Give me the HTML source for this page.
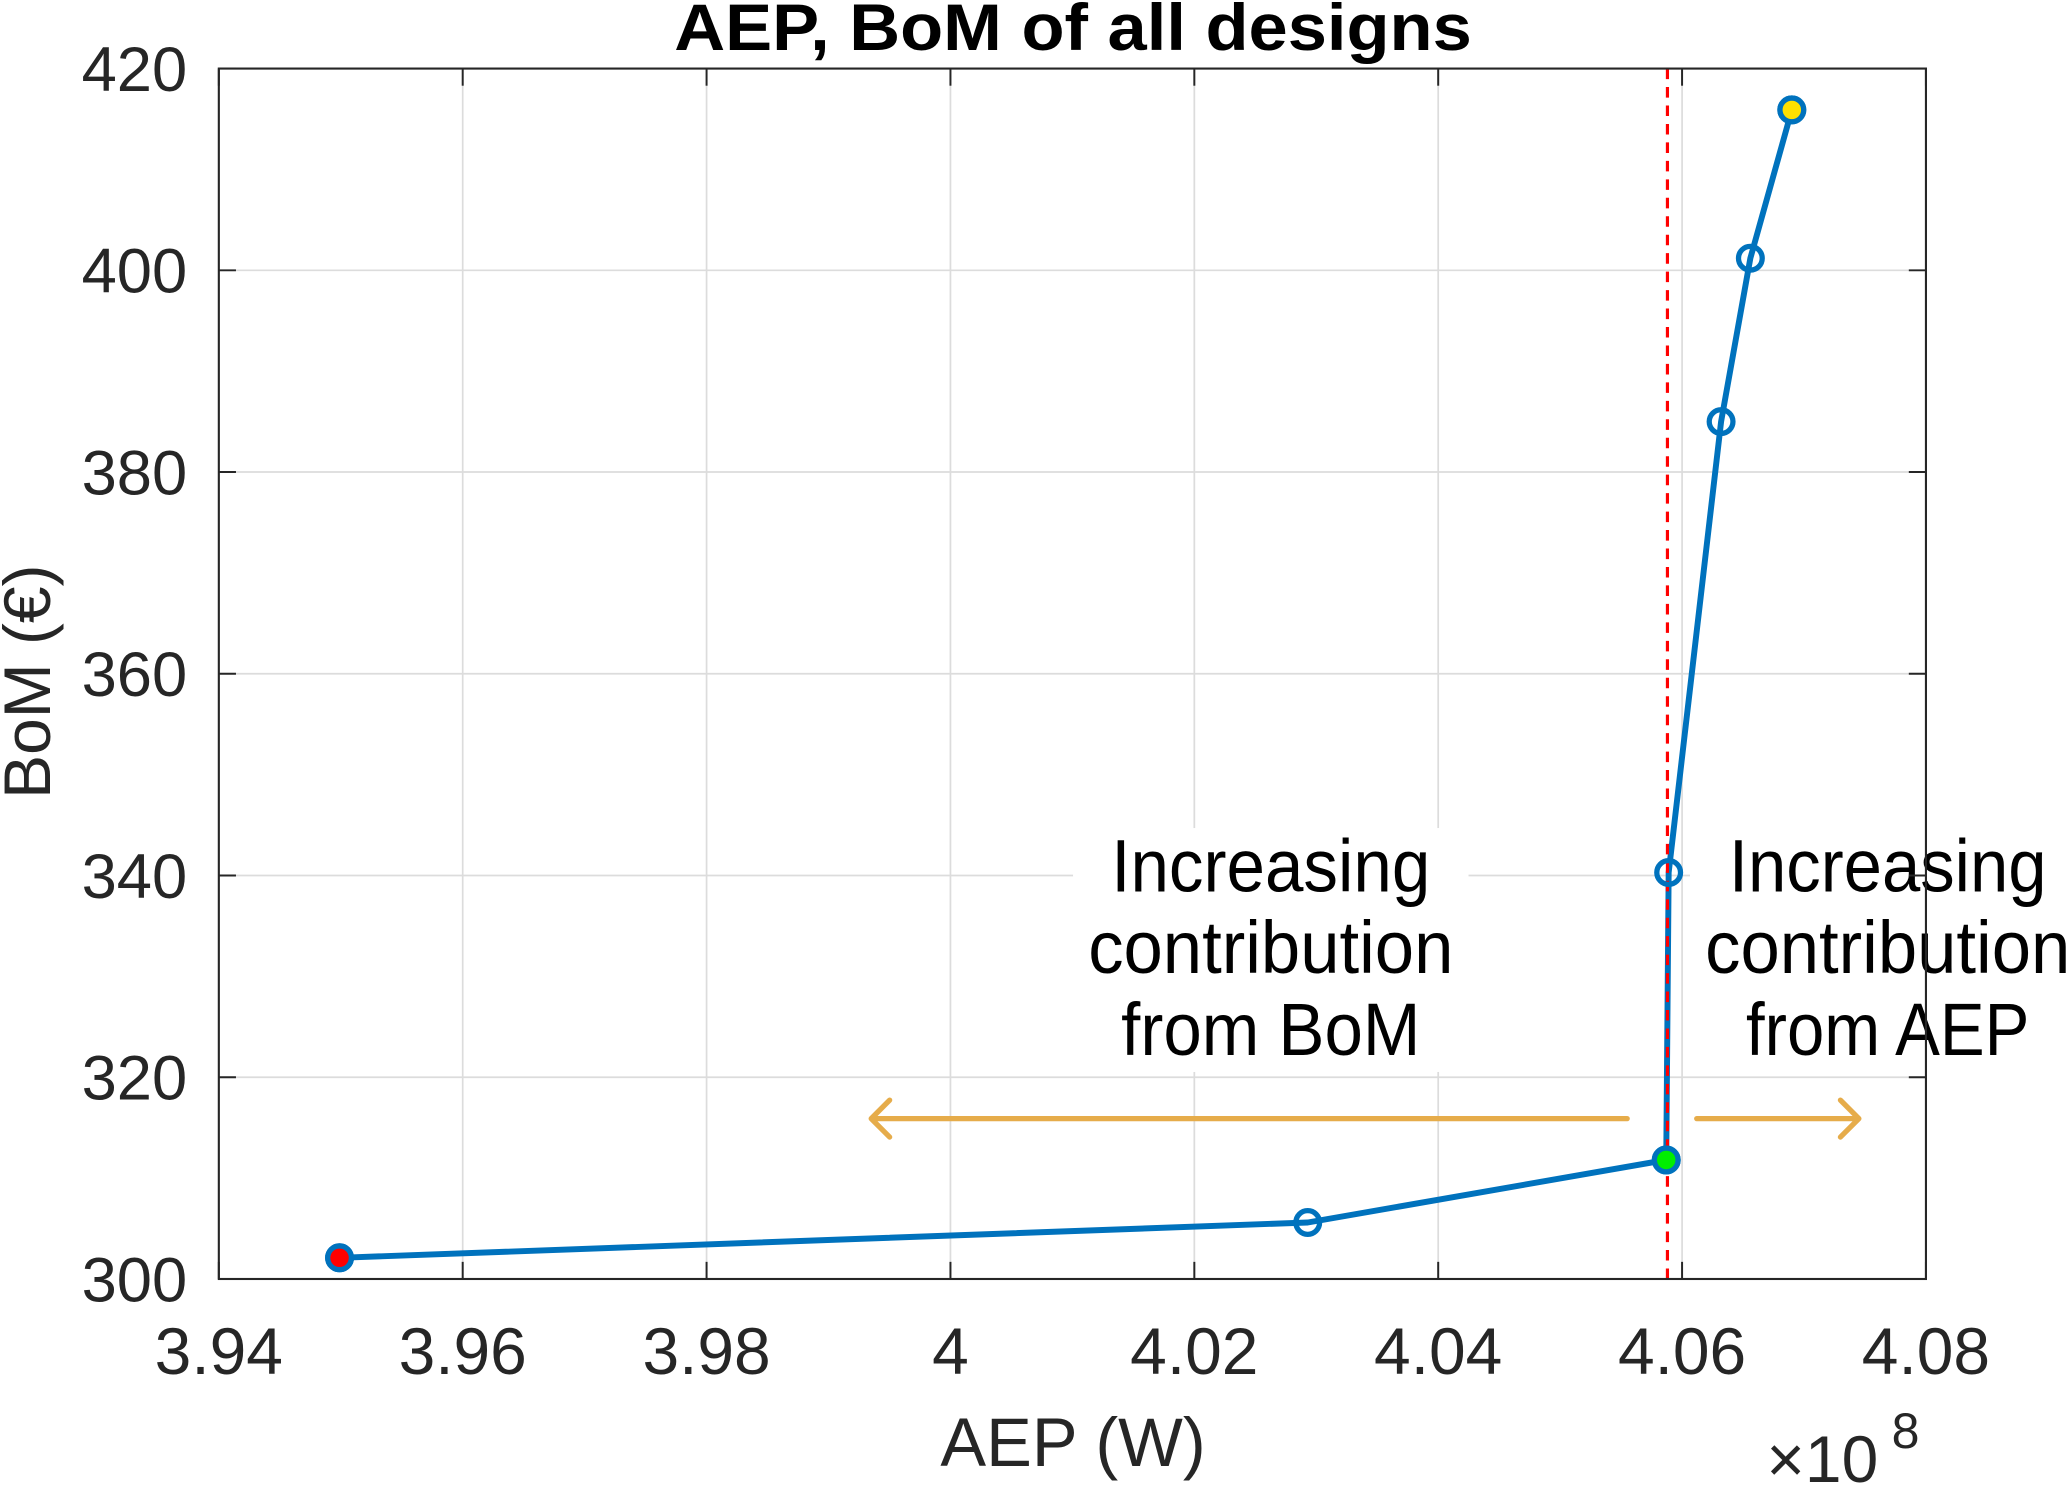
<!DOCTYPE html>
<html><head><meta charset="utf-8"><style>html,body{margin:0;padding:0;background:#fff}svg{display:block}</style></head>
<body>
<svg id="chart" width="2067" height="1486" viewBox="0 0 1568 1127" preserveAspectRatio="none" xmlns="http://www.w3.org/2000/svg" font-family="'Liberation Sans', sans-serif">
<rect x="0" y="0" width="1568" height="1127" fill="#fff"/>
<g id="grid"></g>
<g id="annots"></g>
<g id="series"></g>
<g id="axes"></g>
</svg>
<script>
const xTicks = [3.94, 3.96, 3.98, 4.00, 4.02, 4.04, 4.06, 4.08];
const xTickLabels = ['3.94','3.96','3.98','4','4.02','4.04','4.06','4.08'];
const yTicks = [300, 320, 340, 360, 380, 400, 420];
const yTickLabels = ['300','320','340','360','380','400','420'];
const aep = [3.9499, 4.0293, 4.0587, 4.0589, 4.0632, 4.0656, 4.0690];
const bom = [302.1, 305.6, 311.8, 340.3, 385.0, 401.2, 415.9];
const highlightIdx = [0, 2, 6];
const highlightColors = ['#ff0000', '#00ee00', '#ffe000'];
const thresholdAEP = [4.0588];
const arrowY = [315.9];
const arrowLeftX = [4.0555, 3.9935];
const arrowRightX = [4.0612, 4.0745];

const L=166,R=1461,T=52,B=970;
const xs=v=>L+(v-3.94)/(4.08-3.94)*(R-L);
const ys=v=>B-(v-300)/(420-300)*(B-T);
const NS='http://www.w3.org/2000/svg';
function mk(tag,attrs,parent,text){const e=document.createElementNS(NS,tag);for(const k in attrs)e.setAttribute(k,attrs[k]);if(text!==undefined)e.textContent=text;parent.appendChild(e);return e;}
const grid=document.getElementById('grid'),axes=document.getElementById('axes'),series=document.getElementById('series'),ann=document.getElementById('annots');

xTicks.forEach((t,i)=>{const x=xs(t);
 let g=mk('line',{x1:x,x2:x,y1:T,y2:B,stroke:'#dcdcdc','stroke-width':1.3},grid);
 
 let a=mk('line',{x1:x,x2:x,y1:B,y2:B-13,stroke:'#262626','stroke-width':1.5},axes);
 
 let b=mk('line',{x1:x,x2:x,y1:T,y2:T+13,stroke:'#262626','stroke-width':1.5},axes);
 
 let l=mk('text',{x:x,y:1042,'font-size':50,fill:'#262626','text-anchor':'middle'},axes,xTickLabels[i]);
 
});
yTicks.forEach((t,i)=>{const y=ys(t);
 let g=mk('line',{x1:L,x2:R,y1:y,y2:y,stroke:'#dcdcdc','stroke-width':1.3},grid);
 
 let a=mk('line',{x1:L,x2:L+13,y1:y,y2:y,stroke:'#262626','stroke-width':1.5},axes);
 
 let b=mk('line',{x1:R,x2:R-13,y1:y,y2:y,stroke:'#262626','stroke-width':1.5},axes);
 
 let l=mk('text',{x:142,y:y+17,'font-size':48,fill:'#262626','text-anchor':'end'},axes,yTickLabels[i]);
 
});
let box=mk('rect',{x:L,y:T,width:R-L,height:B-T,fill:'none',stroke:'#262626','stroke-width':1.6},axes);

let tt=mk('text',{x:814,y:38,'font-size':50,'font-weight':'bold','text-anchor':'middle',fill:'#000',textLength:605,lengthAdjust:'spacingAndGlyphs'},axes,'AEP, BoM of all designs');

let xl=mk('text',{x:814,y:1112,'font-size':52,'text-anchor':'middle',fill:'#262626'},axes,'AEP (W)');

let yl=mk('text',{x:0,y:0,'font-size':50,'text-anchor':'middle',fill:'#262626',transform:'translate(38,517) rotate(-90)'},axes,'BoM (€)');

let ex=mk('text',{x:1340,y:1124,'font-size':50,fill:'#262626'},axes,'×10');

let e8=mk('text',{x:1435,y:1098,'font-size':38,fill:'#262626'},axes,'8');


function block(cx,lines,widths,name){
 const bg=mk('rect',{x:cx-150,y:628,width:300,height:185,fill:'#fff'},ann);
 
 lines.forEach((s,i)=>{const t=mk('text',{x:cx,y:676+i*62,'font-size':56,'text-anchor':'middle',fill:'#000',textLength:widths[i],lengthAdjust:'spacingAndGlyphs'},ann,s);
  });
}
block(964,['Increasing','contribution','from BoM'],[242,277,227],'bom-annotation');
block(1432,['Increasing','contribution','from AEP'],[241,277,215],'aep-annotation');
const ay=ys(arrowY[0]);
let a1=mk('path',{d:`M${xs(arrowLeftX[0])},${ay} L${xs(arrowLeftX[1])},${ay} M${xs(arrowLeftX[1])+14},${ay-14} L${xs(arrowLeftX[1])},${ay} L${xs(arrowLeftX[1])+14},${ay+14}`,fill:'none',stroke:'#e6ac4a','stroke-width':4,'stroke-linecap':'round','stroke-linejoin':'round'},ann);

let a2=mk('path',{d:`M${xs(arrowRightX[0])},${ay} L${xs(arrowRightX[1])},${ay} M${xs(arrowRightX[1])-14},${ay-14} L${xs(arrowRightX[1])},${ay} L${xs(arrowRightX[1])-14},${ay+14}`,fill:'none',stroke:'#e6ac4a','stroke-width':4,'stroke-linecap':'round','stroke-linejoin':'round'},ann);


let d=aep.map((v,i)=>(i?'L':'M')+xs(v)+','+ys(bom[i])).join(' ');
let pl=mk('path',{d:d,fill:'none',stroke:'#0072bd','stroke-width':4.5,'stroke-linejoin':'round'},series);

let th=mk('line',{x1:xs(thresholdAEP[0]),x2:xs(thresholdAEP[0]),y1:T,y2:B,stroke:'#ff0000','stroke-width':2.4,'stroke-dasharray':'8,6'},series);

aep.forEach((v,i)=>{const c=mk('circle',{cx:xs(v),cy:ys(bom[i]),r:9,fill:'none',stroke:'#0072bd','stroke-width':4},series);
 });
highlightIdx.forEach((idx,j)=>{const c=mk('circle',{cx:xs(aep[idx]),cy:ys(bom[idx]),r:9,fill:highlightColors[j],stroke:'#0072bd','stroke-width':4},series);
 });
</script>
</body></html>
